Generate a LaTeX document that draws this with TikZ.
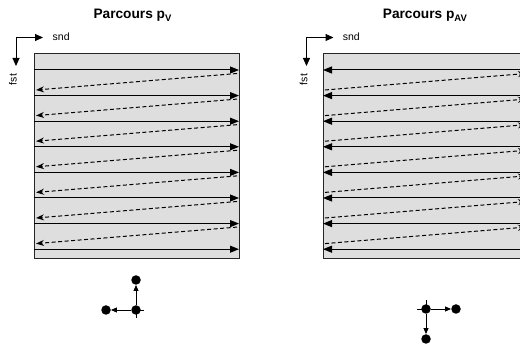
\documentclass[tikz,border=0pt]{standalone}
\usepackage{fontspec}
\setmainfont{Liberation Sans}
\usetikzlibrary{arrows.meta}
\begin{document}
\begin{tikzpicture}[x=1pt,y=-1pt,
  solidarrow/.style={line width=1pt,-{Triangle[length=9pt,width=7pt]}},
  dasharrow/.style={line width=1pt,dash pattern=on 4pt off 2.5pt,-{Stealth[length=8pt,width=6pt]}},
  axisarrow/.style={line width=1pt,-{Triangle[length=8pt,width=7pt]}},
  panel/.style={draw=black!85,fill=black!13,line width=1pt,inner sep=0pt,
    minimum width=205pt,minimum height=205pt,anchor=north west},
  dot/.style={circle,fill=black,inner sep=0pt,minimum size=9.5pt},
  glypharrow/.style={line width=0.9pt,-{Triangle[length=6pt,width=5pt]}},
  stub/.style={line width=0.9pt},
  titletext/.style={font=\fontsize{13.7}{16}\selectfont\bfseries,inner sep=0pt,anchor=base west},
  labeltext/.style={font=\fontsize{10.5}{12}\selectfont,inner sep=0pt}
]
\path[use as bounding box] (0,0) rectangle (520,347);
\clip (0,0) rectangle (520,347);

% titles
\node[titletext] (tL) at (93.3,18.3) {Parcours p\raisebox{-0.42ex}{\fontsize{9.5}{10}\selectfont V}};
\node[titletext] (tR) at (382.7,18.3) {Parcours p\raisebox{-0.42ex}{\fontsize{9.5}{10}\selectfont AV}};

% axis indicators
\coordinate (oL) at (16,37.5);
\coordinate (sL) at (43,37.5);
\coordinate (fL) at (16,66);
\draw[axisarrow] (oL) -- (sL);
\draw[axisarrow] (oL) -- (fL);
\node[labeltext,anchor=west] (sndL) at (52.5,37) {snd};
\node[labeltext,rotate=90] (fstL) at (13,79.5) {fst};

\coordinate (oR) at (306.5,37.5);
\coordinate (sR) at (333.5,37.5);
\coordinate (fR) at (306.5,66);
\draw[axisarrow] (oR) -- (sR);
\draw[axisarrow] (oR) -- (fR);
\node[labeltext,anchor=west] (sndR) at (342.7,37) {snd};
\node[labeltext,rotate=90] (fstR) at (303.5,79.5) {fst};

% panels
\node[panel] (boxL) at (34,53) {};
\node[panel] (boxR) at (323,53) {};

% rows
\foreach \k in {0,...,7}{
  \pgfmathsetmacro{\yy}{70+25.6*\k}
  \coordinate (La\k) at (34,\yy);
  \coordinate (Lb\k) at (239,\yy);
  \coordinate (Ra\k) at (528,\yy);
  \coordinate (Rb\k) at (323,\yy);
  \draw[solidarrow] (La\k) -- (Lb\k);
  \draw[solidarrow] (Ra\k) -- (Rb\k);
}
\foreach \k in {0,...,6}{
  \pgfmathsetmacro{\ya}{70+25.6*\k+3.5}
  \pgfmathsetmacro{\yb}{70+25.6*\k+20}
  \coordinate (Lc\k) at (237,\ya);
  \coordinate (Ld\k) at (36,\yb);
  \coordinate (Rc\k) at (325,\yb);
  \coordinate (Rd\k) at (526,\ya);
  \draw[dasharrow] (Lc\k) -- (Ld\k);
  \draw[dasharrow] (Rc\k) -- (Rd\k);
}

% bottom glyphs
\node[dot] (gLc) at (136,310) {};
\node[dot] (gLu) at (136,280) {};
\node[dot] (gLl) at (106,310) {};
\coordinate (gLr) at (144,310);
\coordinate (gLd) at (136,318);
\draw[stub] (gLc.center) -- (gLr);
\draw[stub] (gLc.center) -- (gLd);
\draw[glypharrow] (gLc) -- (gLu);
\draw[glypharrow] (gLc) -- (gLl);

\node[dot] (gRc) at (426,309) {};
\node[dot] (gRr) at (456,309) {};
\node[dot] (gRd) at (426,339) {};
\coordinate (gRl) at (417,309);
\coordinate (gRu) at (426,300);
\draw[stub] (gRc.center) -- (gRl);
\draw[stub] (gRc.center) -- (gRu);
\draw[glypharrow] (gRc) -- (gRr);
\draw[glypharrow] (gRc) -- (gRd);
\end{tikzpicture}
\end{document}
